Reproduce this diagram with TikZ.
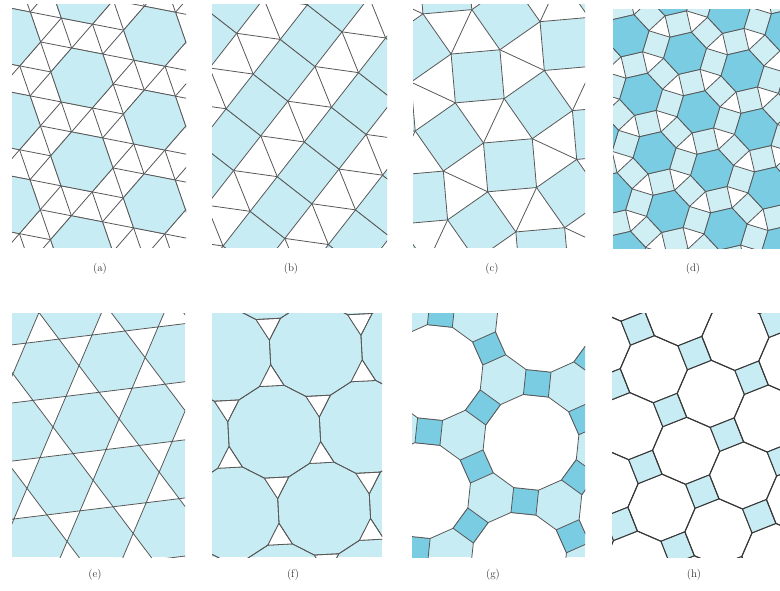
\documentclass[tikz,border=0pt]{standalone}
\usetikzlibrary{calc}
\definecolor{lb}{RGB}{200,236,243}
\definecolor{db}{RGB}{122,204,226}
\definecolor{ln}{RGB}{88,88,88}
\definecolor{lnd}{RGB}{55,55,55}
\tikzset{
  edge/.style={draw=ln, line width=0.8pt, line join=round},
  edgeh/.style={draw=lnd, line width=1pt, line join=round},
  lbl/.style={font=\fontsize{11}{12}\selectfont, inner sep=1pt, text=black!80}
}
\newcommand{\tilepoly}[5]{%
  \path[#1,shift={#5}] ({#4}:#3) \foreach \k in {2,...,#2}{ -- ({#4+(\k-1)*360/#2}:#3) } -- cycle;}
\begin{document}
\begin{tikzpicture}[x=1pt,y=1pt]
\useasboundingbox (0,0) rectangle (780,-591);
\fill[white] (0,0) rectangle (780,-591);

% ---------- (a) snub hexagonal ----------
\begin{scope}
  \clip (12,-5) rectangle (186,-248);
  \fill[white] (12,-5) rectangle (186,-248);
  \begin{scope}[shift={(82,-78)}, rotate=-11]
    \foreach \r in {0,60,120}{
      \foreach \n in {-10,...,10}{
        \draw[edge, rotate=\r] (-400,{\n*27.453}) -- (400,{\n*27.453});
      }
    }
    \foreach \i in {-5,...,5}{\foreach \j in {-5,...,5}{
      \tilepoly{edge,fill=lb}{6}{31.7}{0}{({31.7*(2*\i-0.5*\j)},{27.453*(2*\i+3*\j)})}
    }}
  \end{scope}
\end{scope}

% ---------- (b) elongated triangular ----------
\begin{scope}
  \clip (212,-5) rectangle (387,-248);
  \fill[white] (212,-5) rectangle (387,-248);
  \begin{scope}[shift={(236.7,-33.3)}, rotate=52]
    \foreach \k in {-4,...,4}{\foreach \i in {-8,...,8}{
      \path[edge,fill=lb] ({\i*44+\k*22},{\k*82.105}) -- ++(44,0) -- ++(0,44) -- ++(-44,0) -- cycle;
      \draw[edge] ({\i*44+\k*22},{\k*82.105+44}) -- ++(22,38.105)
                  ({\i*44+\k*22},{\k*82.105+44}) -- ++(-22,38.105);
    }}
  \end{scope}
\end{scope}

% ---------- (c) snub square ----------
\begin{scope}
  \clip (413,-5) rectangle (585,-248);
  \fill[white] (413,-5) rectangle (585,-248);
  \begin{scope}[shift={(538.3,-104.6)}, rotate=20]
    \foreach \i in {-4,...,4}{\foreach \j in {-4,...,4}{
      \tilepoly{edge,fill=lb}{4}{34.65}{60}{({\i*94.66},{\j*94.66})}
      \tilepoly{edge,fill=lb}{4}{34.65}{30}{({(\i+0.5)*94.66},{(\j+0.5)*94.66})}
      \draw[edge] ($({\i*94.66},{\j*94.66})+(330:34.65)$) -- ($({(\i+1)*94.66},{\j*94.66})+(150:34.65)$);
      \draw[edge] ($({\i*94.66},{\j*94.66})+(60:34.65)$) -- ($({\i*94.66},{(\j+1)*94.66})+(240:34.65)$);
    }}
  \end{scope}
\end{scope}

% ---------- (d) rhombitrihexagonal ----------
\begin{scope}
  \clip (613,-10) rectangle (780,-249);
  \fill[white] (613,-10) rectangle (780,-249);
  \begin{scope}[shift={(685,-53.3)}, rotate=-17]
    \foreach \i in {-5,...,5}{\foreach \j in {-5,...,5}{
      \foreach \p in {0,60,120}{
        \tilepoly{edge,fill=lb!85!white}{4}{15.556}{\p+45}{({\i*60.1+\j*30.05+30.05*cos(\p)},{\j*52.048+30.05*sin(\p)})}
      }
    }}
    \foreach \i in {-5,...,5}{\foreach \j in {-5,...,5}{
      \tilepoly{edge,fill=db}{6}{22}{30}{({\i*60.1+\j*30.05},{\j*52.048})}
    }}
  \end{scope}
\end{scope}

% ---------- (e) trihexagonal ----------
\begin{scope}
  \clip (12,-313) rectangle (185,-557);
  \fill[lb] (12,-313) rectangle (185,-557);
  \begin{scope}[shift={(53,-427)}, rotate=7]
    \foreach \i in {-8,...,8}{\foreach \j in {-6,...,6}{
      \path[edge,fill=white,shift={({66.6*\i+33.3*\j-16.65},{28.838*(2*\j-1)})}]
        (0,0) -- (0:33.3) -- (60:33.3) -- cycle
        (0,0) -- (180:33.3) -- (240:33.3) -- cycle;
    }}
  \end{scope}
\end{scope}

% ---------- (f) truncated hexagonal ----------
\begin{scope}
  \clip (212,-313) rectangle (382,-557);
  \fill[lb] (212,-313) rectangle (382,-557);
  \begin{scope}[shift={(274.2,-431.7)}, rotate=3]
    \foreach \i in {-4,...,4}{\foreach \j in {-4,...,4}{
      \tilepoly{edge}{12}{47.47}{15}{({\i*91.7+\j*45.85},{\j*79.414})}
      \tilepoly{edge,fill=white}{3}{14.19}{30}{({\i*91.7+\j*45.85+45.85},{\j*79.414+26.47})}
      \tilepoly{edge,fill=white}{3}{14.19}{90}{({\i*91.7+\j*45.85},{\j*79.414+52.94})}
    }}
  \end{scope}
\end{scope}

% ---------- (g) truncated trihexagonal ----------
\begin{scope}
  \clip (412,-313) rectangle (585,-557);
  \fill[lb] (412,-313) rectangle (585,-557);
  \begin{scope}[shift={(531,-442.3)}, rotate=24]
    \foreach \i in {-3,...,3}{\foreach \j in {-3,...,3}{
      \tilepoly{edge,fill=white}{12}{48.49}{15}{({\i*118.7+\j*59.35},{\j*102.797})}
      \foreach \p in {0,60,120}{
        \tilepoly{edge,fill=db}{4}{17.75}{\p+45}{({\i*118.7+\j*59.35+59.35*cos(\p)},{\j*102.797+59.35*sin(\p)})}
      }
    }}
  \end{scope}
\end{scope}

% ---------- (h) truncated square ----------
\begin{scope}
  \clip (612,-313) rectangle (780,-557);
  \fill[white] (612,-313) rectangle (780,-557);
  \begin{scope}[shift={(670,-410)}, rotate=-23.4]
    \foreach \i in {-4,...,4}{\foreach \j in {-4,...,4}{
      \tilepoly{edgeh,fill=lb}{4}{18.17}{0}{({\i*62.04},{\j*62.04})}
      \tilepoly{edgeh}{8}{33.58}{22.5}{({(\i+0.5)*62.04},{(\j+0.5)*62.04})}
    }}
  \end{scope}
\end{scope}

% ---------- labels ----------
\node[lbl] (la) at (100,-269) {(a)};
\node[lbl] (lb) at (291,-269) {(b)};
\node[lbl] (lc) at (492,-269) {(c)};
\node[lbl] (ld) at (693,-269) {(d)};
\node[lbl] (le) at (95,-575) {(e)};
\node[lbl] (lf) at (293,-575) {(f)};
\node[lbl] (lg) at (493,-575) {(g)};
\node[lbl] (lh) at (694,-575) {(h)};
\end{tikzpicture}
\end{document}
